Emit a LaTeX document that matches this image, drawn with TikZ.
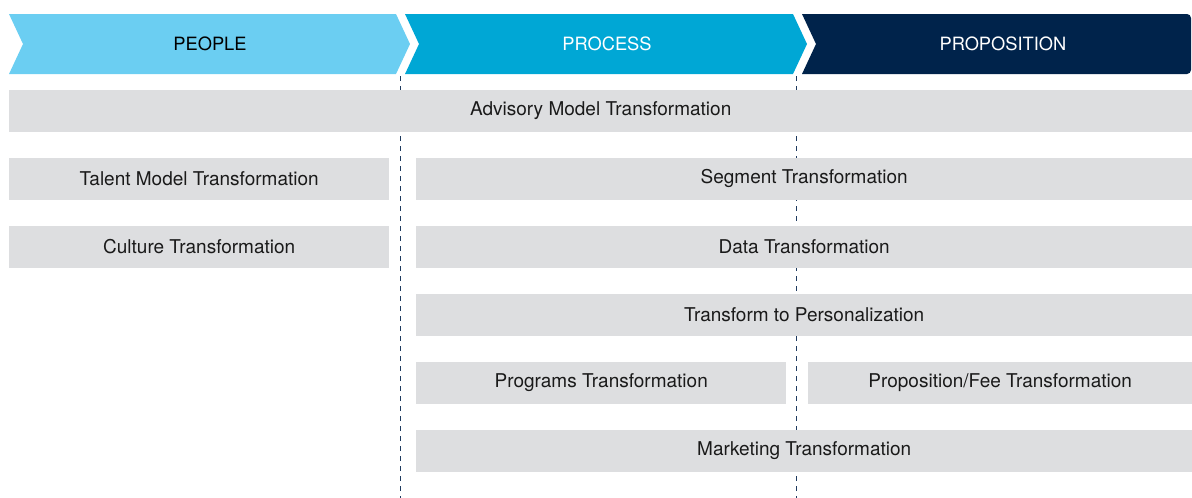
\documentclass[tikz,border=0pt]{standalone}
\usepackage{fontspec}
\setmainfont{TeX Gyre Heros}
\definecolor{peoplec}{HTML}{6BCEF2}
\definecolor{processc}{HTML}{00A7D5}
\definecolor{propc}{HTML}{00234B}
\definecolor{barc}{HTML}{DDDEE0}
\definecolor{dashc}{HTML}{1E3A5F}
\definecolor{txtc}{HTML}{1A1A1A}
\begin{document}
\begin{tikzpicture}[x=1pt,y=-1pt,
  bar/.style={fill=barc, inner sep=0pt, minimum height=41.5pt, anchor=north west,
    font=\fontsize{19}{22}\selectfont, text=txtc},
  head/.style={inner sep=0pt, font=\fontsize{18.3}{21}\selectfont},
  divider/.style={draw=dashc, line width=1pt, dash pattern=on 5pt off 5pt}]
\useasboundingbox (0,0) rectangle (1192,498);
% chevrons
\fill[peoplec] (9,14) -- (396,14) -- (410,44) -- (396,74) -- (9,74) -- (23,44) -- cycle;
\fill[processc] (405,14) -- (793,14) -- (807,44) -- (793,74) -- (405,74) -- (419,44) -- cycle;
\fill[propc] (802,14) {[rounded corners=4pt] -- (1191,14) -- (1191,74)} -- (802,74) -- (816,44) -- cycle;
\node[head, text=black] (people) at (210,44) {PEOPLE};
\node[head, text=white] (process) at (607,44) {PROCESS};
\node[head, text=white] (proposition) at (1003,44) {PROPOSITION};
% dividers
\coordinate (d1t) at (400,76);
\coordinate (d1b) at (400,498);
\coordinate (d2t) at (796,76);
\coordinate (d2b) at (796,498);
\draw[divider] (d1t) -- (d1b);
\draw[divider] (d2t) -- (d2b);
% bars
\node[bar, minimum width=1183pt] (adv) at (9,90) {Advisory Model Transformation};
\node[bar, minimum width=380pt] (talent) at (9,158) {Talent Model Transformation};
\node[bar, minimum width=776pt] (segment) at (416,158) {Segment Transformation};
\node[bar, minimum width=380pt] (culture) at (9,226) {Culture Transformation};
\node[bar, minimum width=776pt] (data) at (416,226) {Data Transformation};
\node[bar, minimum width=776pt] (pers) at (416,294) {Transform to Personalization};
\node[bar, minimum width=370pt] (programs) at (416,362) {Programs Transformation};
\node[bar, minimum width=384pt] (fee) at (808,362) {Proposition/Fee Transformation};
\node[bar, minimum width=776pt] (marketing) at (416,430) {Marketing Transformation};
\end{tikzpicture}
\end{document}
